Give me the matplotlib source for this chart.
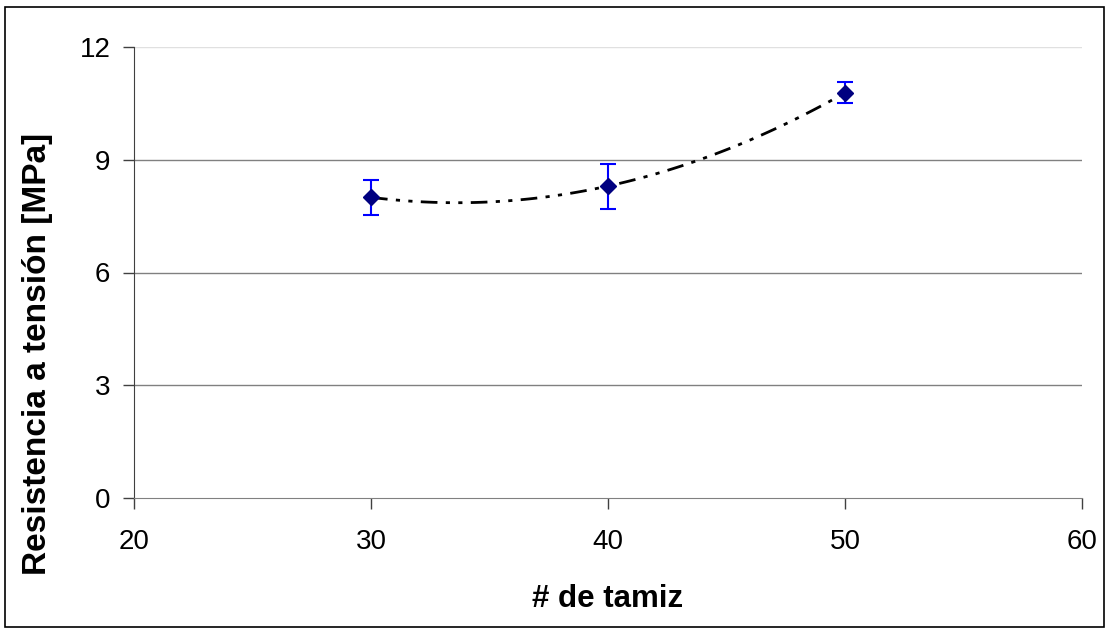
import numpy as np
import matplotlib.pyplot as plt
from matplotlib.patches import Rectangle

plt.rcParams['font.family'] = ['Liberation Sans', 'DejaVu Sans']

# data
tamiz = [30, 40, 50]
resistencia = [8.0, 8.3, 10.78]
error = [0.47, 0.6, 0.28]

# second order trendline through the points (as in the original)
coef = np.polyfit(tamiz, resistencia, 2)
xs = np.linspace(30, 50, 100)
ys = np.polyval(coef, xs)

fig = plt.figure(figsize=(11.1, 6.34), dpi=100)
ax = fig.add_axes([134 / 1110, 1 - 498 / 634, (1082 - 134) / 1110, (498 - 47) / 634])

for yv in [3, 6, 9]:
    ax.axhline(yv, color='#808080', lw=1, zorder=0)
ax.axhline(12, color='#e0e0e0', lw=1, zorder=0)

ax.plot(xs, ys, color='black', lw=2, linestyle=(0, (6, 3, 1.5, 3, 1.5, 3)), zorder=2)
ax.errorbar(tamiz, resistencia, yerr=error, fmt='D', color='#000080', ms=8.5,
            ecolor='#0000ff', elinewidth=1.5, capsize=6, capthick=1.5, zorder=3)

ax.set_xlim(20, 60)
ax.set_ylim(0, 12)
ax.set_xticks([20, 30, 40, 50, 60])
ax.set_yticks([0, 3, 6, 9, 12])
ax.tick_params(labelsize=20, length=8, width=1, color='#404040')
ax.tick_params(axis='y', pad=9)
ax.tick_params(axis='x', pad=14)
for s in ['top', 'right']:
    ax.spines[s].set_visible(False)
ax.spines['left'].set_color('#404040')
ax.spines['bottom'].set_color('#808080')

ax.set_xlabel('# de tamiz', fontsize=22.5, fontweight='bold')
ax.set_ylabel('Resistencia a tensión [MPa]', fontsize=24, fontweight='bold')
ax.xaxis.set_label_coords(0.5, -0.19)
ax.yaxis.set_label_coords(-0.085, 0.319)

fig.patches.append(Rectangle((5 / 1110, 1 - 627 / 634), 1099 / 1110, 620 / 634,
                             transform=fig.transFigure, fill=False, ec='black', lw=1.2))

fig.savefig('out.png', dpi=100)
